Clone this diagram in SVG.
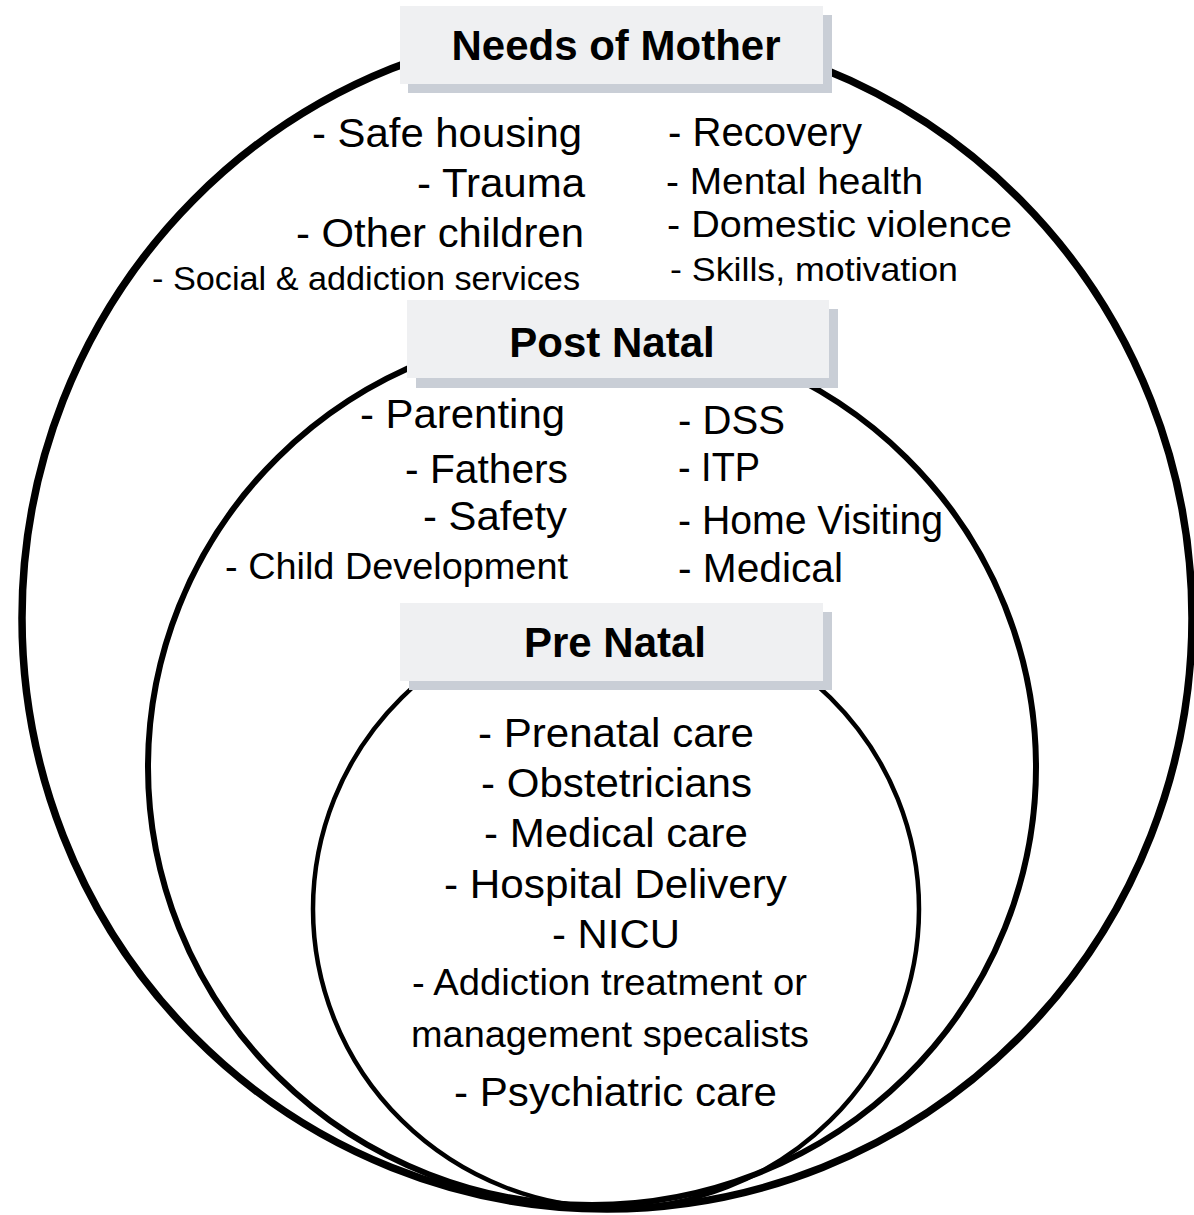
<svg xmlns="http://www.w3.org/2000/svg" width="1194" height="1215" viewBox="0 0 1194 1215">
  <style>
    .ring { fill: none; stroke: #000; }
    .box { fill: #eff0f2; }
    .shadow { fill: #c9ced6; }
    .title { font-family: "Liberation Sans", Arial, sans-serif; font-weight: bold; font-size: 42px; fill: #000; text-anchor: middle; }
    .item { font-family: "Liberation Sans", Arial, sans-serif; font-size: 40px; fill: #000; }
    .small { font-size: 34px; }
    .mid { font-size: 37px; }
  </style>

  <!-- nested rings: mother needs, post natal, pre natal -->
  <g id="rings">
    <ellipse id="ring-mother" class="ring" cx="607" cy="618" rx="585" ry="591" stroke-width="7.5"/>
    <ellipse id="ring-postnatal" class="ring" cx="592" cy="767" rx="444" ry="438" stroke-width="6"/>
    <ellipse id="ring-prenatal" class="ring" cx="616" cy="909" rx="303" ry="299" stroke-width="4.5"/>
  </g>

  <!-- Needs of Mother -->
  <g id="node-mother">
    <rect class="shadow" x="408" y="15" width="424" height="78"/>
    <rect class="box" x="400" y="6" width="423" height="78"/>
    <text class="title" x="616" y="60" font-size="43">Needs of Mother</text>
    <g class="item">
      <text x="312" y="147" textLength="270" lengthAdjust="spacingAndGlyphs">- Safe housing</text>
      <text x="417" y="197" textLength="168" lengthAdjust="spacingAndGlyphs">- Trauma</text>
      <text x="296" y="247" textLength="288" lengthAdjust="spacingAndGlyphs">- Other children</text>
      <text class="small" x="152" y="290" textLength="428" lengthAdjust="spacingAndGlyphs">- Social &amp; addiction services</text>
      <text x="668" y="146" textLength="194" lengthAdjust="spacingAndGlyphs">- Recovery</text>
      <text class="mid" x="666" y="194" textLength="257" lengthAdjust="spacingAndGlyphs">- Mental health</text>
      <text class="mid" x="667" y="237" textLength="345" lengthAdjust="spacingAndGlyphs">- Domestic violence</text>
      <text class="small" x="670" y="281" textLength="288" lengthAdjust="spacingAndGlyphs">- Skills, motivation</text>
    </g>
  </g>

  <!-- Post Natal -->
  <g id="node-postnatal">
    <rect class="shadow" x="416" y="309" width="422" height="79"/>
    <rect class="box" x="407" y="300" width="422" height="78"/>
    <text class="title" x="612" y="357">Post Natal</text>
    <g class="item">
      <text x="360" y="428" textLength="205" lengthAdjust="spacingAndGlyphs">- Parenting</text>
      <text x="405" y="483" textLength="163" lengthAdjust="spacingAndGlyphs">- Fathers</text>
      <text x="423" y="530" textLength="144" lengthAdjust="spacingAndGlyphs">- Safety</text>
      <text class="mid" x="225" y="579" textLength="343" lengthAdjust="spacingAndGlyphs">- Child Development</text>
      <text x="678" y="434" textLength="107" lengthAdjust="spacingAndGlyphs">- DSS</text>
      <text x="678" y="481" textLength="82" lengthAdjust="spacingAndGlyphs">- ITP</text>
      <text x="678" y="534" textLength="265" lengthAdjust="spacingAndGlyphs">- Home Visiting</text>
      <text x="678" y="582" textLength="165" lengthAdjust="spacingAndGlyphs">- Medical</text>
    </g>
  </g>

  <!-- Pre Natal -->
  <g id="node-prenatal">
    <rect class="shadow" x="409" y="612" width="423" height="78"/>
    <rect class="box" x="400" y="603" width="423" height="78"/>
    <text class="title" x="615" y="657">Pre Natal</text>
    <g class="item">
      <text x="478" y="747" textLength="276" lengthAdjust="spacingAndGlyphs">- Prenatal care</text>
      <text x="481" y="797" textLength="271" lengthAdjust="spacingAndGlyphs">- Obstetricians</text>
      <text x="484" y="847" textLength="264" lengthAdjust="spacingAndGlyphs">- Medical care</text>
      <text x="444" y="898" textLength="343" lengthAdjust="spacingAndGlyphs">- Hospital Delivery</text>
      <text x="552" y="948" textLength="128" lengthAdjust="spacingAndGlyphs">- NICU</text>
      <text class="mid" x="412" y="995" textLength="395" lengthAdjust="spacingAndGlyphs">- Addiction treatment or</text>
      <text class="mid" x="411" y="1047" textLength="398" lengthAdjust="spacingAndGlyphs">management specalists</text>
      <text x="454" y="1106" textLength="323" lengthAdjust="spacingAndGlyphs">- Psychiatric care</text>
    </g>
  </g>
</svg>
